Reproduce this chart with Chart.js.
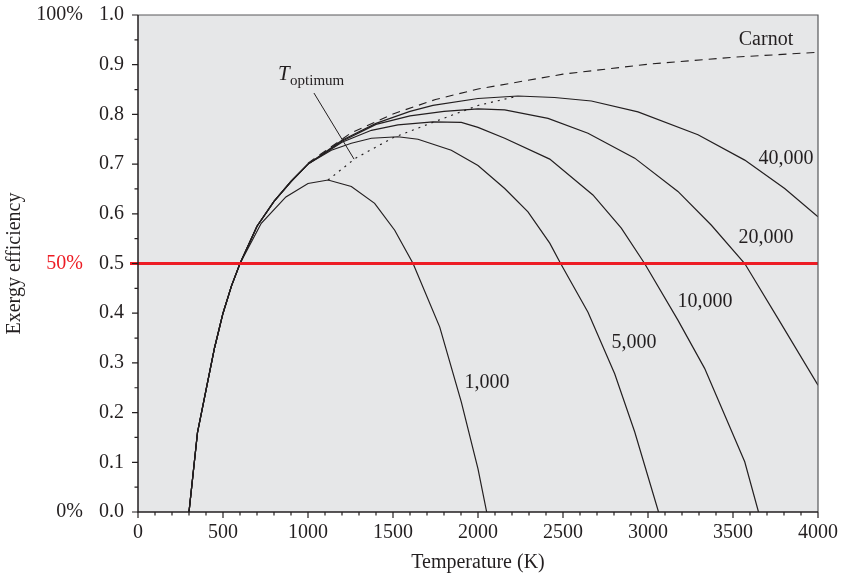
<!DOCTYPE html>
<html>
<head>
<meta charset="utf-8">
<script src="https://cdn.jsdelivr.net/npm/chart.js@4.4.0/dist/chart.umd.min.js"></script>
<style>
  html, body { margin: 0; padding: 0; background: #fff; }
</style>
</head>
<body>
<canvas id="chart" width="841" height="576"></canvas>
<script>
// rising branch shared by all curves (K, efficiency)
const baseT = [300, 350, 400, 450, 500, 550, 600];
const baseEff = [0, 0.16, 0.245, 0.33, 0.40, 0.455, 0.50];
const upperT = [700, 800, 900, 1000];
const upperEff = [0.575, 0.625, 0.665, 0.700];

const t1000 = [725, 870, 1000, 1118, 1255, 1392, 1510, 1618, 1775, 1902, 2000, 2051];
const eff1000 = [0.581, 0.634, 0.661, 0.668, 0.655, 0.621, 0.567, 0.50, 0.372, 0.221, 0.087, 0];

const t5000 = [1137, 1255, 1373, 1529, 1647, 1843, 2000, 2157, 2294, 2422, 2486, 2647, 2804, 2922, 3062];
const eff5000 = [0.728, 0.742, 0.752, 0.755, 0.750, 0.728, 0.697, 0.651, 0.604, 0.541, 0.50, 0.402, 0.278, 0.161, 0];

const t10000 = [1200, 1373, 1529, 1735, 1902, 2000, 2157, 2422, 2676, 2843, 2980, 3176, 3333, 3569, 3650];
const eff10000 = [0.744, 0.768, 0.779, 0.785, 0.784, 0.774, 0.752, 0.710, 0.638, 0.571, 0.50, 0.386, 0.289, 0.101, 0];

const t20000 = [1200, 1400, 1600, 1800, 2000, 2157, 2412, 2647, 2922, 3176, 3373, 3569, 3765, 4000];
const eff20000 = [0.746, 0.780, 0.797, 0.806, 0.811, 0.809, 0.792, 0.762, 0.712, 0.645, 0.577, 0.50, 0.389, 0.255];

const t40000 = [1200, 1400, 1600, 1735, 2000, 2235, 2450, 2667, 2941, 3294, 3569, 3804, 4000];
const eff40000 = [0.748, 0.782, 0.806, 0.818, 0.832, 0.837, 0.834, 0.827, 0.805, 0.759, 0.708, 0.651, 0.594];

const carnotT = [1000, 1250, 1500, 1750, 2000, 2500, 3000, 3500, 4000];
const carnotEff = [0.702, 0.762, 0.801, 0.830, 0.851, 0.881, 0.901, 0.915, 0.925];

const optT = [1118, 1280, 1500, 1750, 2000, 2235];
const optEff = [0.668, 0.712, 0.753, 0.786, 0.818, 0.837];

const xTicks = [0, 500, 1000, 1500, 2000, 2500, 3000, 3500, 4000];
const yTicks = [0, 0.1, 0.2, 0.3, 0.4, 0.5, 0.6, 0.7, 0.8, 0.9, 1.0];
const pctLabels = [[1.0, '100%'], [0.5, '50%'], [0, '0%']];
const curveLabels = [
    ['40,000', 3812, 0.710],
    ['20,000', 3694, 0.551],
    ['10,000', 3335, 0.4225],
    ['5,000', 2918, 0.340],
    ['1,000', 2053, 0.260],
    ['Carnot', 3694, 0.950]
];

const FONT = '"Liberation Serif", "DejaVu Serif", serif';
const INK = '#231f20';

function pts(ts, es) {
    return ts.map(function (t, i) { return { x: t, y: es[i] }; });
}

function curve(ts, es) {
    return {
        data: pts(ts, es),
        borderColor: INK,
        borderWidth: 1.2,
        pointRadius: 0,
        tension: 0,
        fill: false
    };
}

const datasets = [
    curve(baseT.concat(t1000), baseEff.concat(eff1000)),
    curve(baseT.concat(upperT, t5000), baseEff.concat(upperEff, eff5000)),
    curve(baseT.concat(upperT, t10000), baseEff.concat(upperEff, eff10000)),
    curve(baseT.concat(upperT, t20000), baseEff.concat(upperEff, eff20000)),
    curve(baseT.concat(upperT, t40000), baseEff.concat(upperEff, eff40000)),
    Object.assign(curve(carnotT, carnotEff), { borderDash: [8, 6], borderWidth: 1.1 }),
    Object.assign(curve(optT, optEff), { borderDash: [2, 5], borderWidth: 1.2 })
];

const decor = {
    id: 'decor',
    beforeDraw: function (chart) {
        const a = chart.chartArea, ctx = chart.ctx;
        ctx.save();
        ctx.fillStyle = '#e6e7e8';
        ctx.fillRect(a.left, a.top, a.right - a.left, a.bottom - a.top);
        ctx.restore();
    },
    afterDatasetsDraw: function (chart) {
        const a = chart.chartArea, ctx = chart.ctx;
        const xs = chart.scales.x, ys = chart.scales.y;
        ctx.save();

        // 50% line
        const y50 = ys.getPixelForValue(0.5);
        ctx.strokeStyle = '#ed1c24';
        ctx.lineWidth = 3;
        ctx.beginPath();
        ctx.moveTo(a.left - 8, y50);
        ctx.lineTo(a.right, y50);
        ctx.stroke();

        // frame
        ctx.lineWidth = 1.2;
        ctx.strokeStyle = '#58595b';
        ctx.beginPath();
        ctx.moveTo(a.left, a.top);
        ctx.lineTo(a.right, a.top);
        ctx.lineTo(a.right, a.bottom);
        ctx.stroke();
        ctx.lineWidth = 1.5;
        ctx.strokeStyle = INK;
        ctx.beginPath();
        ctx.moveTo(a.left, a.top);
        ctx.lineTo(a.left, a.bottom);
        ctx.lineTo(a.right, a.bottom);
        ctx.stroke();

        // tick marks
        ctx.lineWidth = 1.2;
        ctx.beginPath();
        for (let v = 0; v <= 4000; v += 100) {
            const px = xs.getPixelForValue(v);
            const len = v % 500 === 0 ? 6 : 3.5;
            ctx.moveTo(px, a.bottom);
            ctx.lineTo(px, a.bottom + len);
        }
        for (let k = 0; k <= 20; k++) {
            const py = ys.getPixelForValue(k * 0.05);
            const len = k % 2 === 0 ? 6 : 3.5;
            ctx.moveTo(a.left, py);
            ctx.lineTo(a.left - len, py);
        }
        ctx.stroke();

        // percent labels
        ctx.font = '20px ' + FONT;
        ctx.textAlign = 'right';
        ctx.textBaseline = 'middle';
        pctLabels.forEach(function (p) {
            ctx.fillStyle = p[0] === 0.5 ? '#ed1c24' : INK;
            ctx.fillText(p[1], 83, ys.getPixelForValue(p[0]));
        });

        // curve labels
        ctx.fillStyle = INK;
        ctx.textAlign = 'center';
        curveLabels.forEach(function (l) {
            ctx.fillText(l[0], xs.getPixelForValue(l[1]), ys.getPixelForValue(l[2]));
        });

        // T optimum annotation
        const tx = xs.getPixelForValue(824), ty = ys.getPixelForValue(0.869);
        ctx.textAlign = 'left';
        ctx.textBaseline = 'alphabetic';
        ctx.font = 'italic 21px ' + FONT;
        ctx.fillText('T', tx, ty);
        ctx.font = '15px ' + FONT;
        ctx.fillText('optimum', tx + 12, ty + 5);
        ctx.lineWidth = 1;
        ctx.beginPath();
        ctx.moveTo(xs.getPixelForValue(1035), ys.getPixelForValue(0.843));
        ctx.lineTo(xs.getPixelForValue(1271), ys.getPixelForValue(0.710));
        ctx.stroke();

        // axis titles
        ctx.font = '20px ' + FONT;
        ctx.textAlign = 'center';
        ctx.textBaseline = 'middle';
        ctx.fillText('Temperature (K)', (a.left + a.right) / 2, 563);
        ctx.translate(15, (a.top + a.bottom) / 2);
        ctx.rotate(-Math.PI / 2);
        ctx.fillText('Exergy efficiency', 0, 0);

        ctx.restore();
    }
};

new Chart(document.getElementById('chart'), {
    type: 'line',
    data: { datasets: datasets },
    options: {
        responsive: false,
        animation: false,
        layout: { padding: { left: 0, right: 23, top: 15, bottom: 0 } },
        plugins: { legend: { display: false }, tooltip: { enabled: false } },
        scales: {
            x: {
                type: 'linear',
                min: 0,
                max: 4000,
                grid: { display: false, drawTicks: false },
                border: { display: false },
                afterBuildTicks: function (s) { s.ticks = xTicks.map(function (v) { return { value: v }; }); },
                afterFit: function (s) {
                    s.height = 64;
                    s.paddingLeft = 0;
                    s.paddingRight = 0;
                },
                ticks: {
                    color: INK,
                    font: { family: FONT, size: 20 },
                    padding: 9,
                    maxRotation: 0,
                    callback: function (v) { return String(v); }
                }
            },
            y: {
                min: 0,
                max: 1,
                grid: { display: false, drawTicks: false },
                border: { display: false },
                afterBuildTicks: function (s) { s.ticks = yTicks.map(function (v) { return { value: v }; }); },
                afterFit: function (s) {
                    s.width = 138;
                    s.paddingTop = 0;
                    s.paddingBottom = 0;
                },
                ticks: {
                    color: INK,
                    font: { family: FONT, size: 20 },
                    padding: 14,
                    callback: function (v) { return v.toFixed(1); }
                }
            }
        }
    },
    plugins: [decor]
});
</script>
</body>
</html>
